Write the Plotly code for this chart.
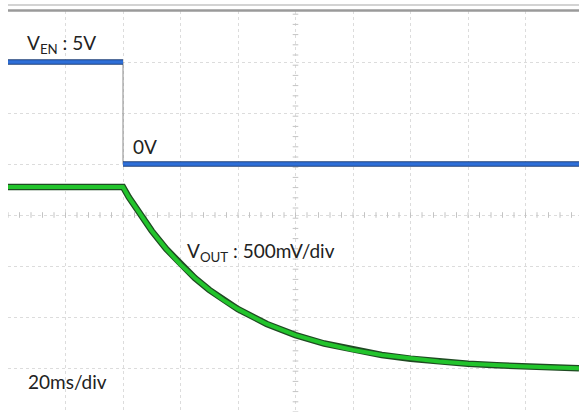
import plotly.graph_objects as go

# time axis (ms), 20 ms/div
t_en = [0, 40, None, 40, 198.6]
v_en = [5, 5, None, 0, 0]

t_out = [0, 40, 42, 45, 50, 55, 60, 65, 70, 75, 80, 90, 100, 110, 120, 130, 140, 150, 160, 170, 180, 190, 198.6]
v_out = [1.8, 1.8, 1.70, 1.57, 1.369, 1.193, 1.04, 0.907, 0.791, 0.690, 0.602, 0.457, 0.348, 0.265, 0.201,
         0.153, 0.116, 0.088, 0.067, 0.051, 0.039, 0.030, 0.023]

labels = ["V<sub>EN</sub> : 5V", "0V", "V<sub>OUT</sub> : 500mV/div", "20ms/div"]

# layout geometry (pixels)
W, H = 579, 412
L, T = 8, 11
XMAX = (W - L) / 2.875          # ms visible
DIV = 51.0
CY = 215.0                      # center line pixel
def div_of(py):
    return (CY - py) / DIV
y_top_div = div_of(T)
y_bot_div = div_of(H)
# EN axis: 2.5 V/div, 0 V at +1 div
en_rng = [(y_bot_div - 1) * 2.5, (y_top_div - 1) * 2.5]
# VOUT axis: 0.5 V/div, 0 V at -3.05 div
out_rng = [(y_bot_div + 3.05) * 0.5, (y_top_div + 3.05) * 0.5]

fig = go.Figure()

# center-cross minor ticks
tick_x = [i * 4.0 for i in range(0, 50)]
fig.add_trace(go.Scatter(x=tick_x, y=[-2.5] * len(tick_x), mode="markers",
                         marker=dict(symbol="line-ns-open", size=4, color="#c4c4c4", line=dict(width=1, color="#c4c4c4")),
                         hoverinfo="skip", showlegend=False))
tick_y = [en_rng[0] + 0.5 * i for i in range(0, 40)]
fig.add_trace(go.Scatter(x=[100] * len(tick_y), y=tick_y, mode="markers",
                         marker=dict(symbol="line-ew-open", size=4, color="#c4c4c4", line=dict(width=1, color="#c4c4c4")),
                         hoverinfo="skip", showlegend=False))

# EN step edge
fig.add_trace(go.Scatter(x=[40, 40], y=[5, 0], mode="lines", line=dict(color="#8a8a8a", width=1),
                         hoverinfo="skip", showlegend=False))
# EN trace
fig.add_trace(go.Scatter(x=t_en, y=v_en, mode="lines", line=dict(color="#1d3f7a", width=5.5),
                         hoverinfo="skip", showlegend=False))
fig.add_trace(go.Scatter(x=t_en, y=v_en, mode="lines", line=dict(color="#2e6fd8", width=3.5),
                         name="V_EN", showlegend=False))
# VOUT trace
fig.add_trace(go.Scatter(x=t_out, y=v_out, mode="lines", yaxis="y2", line=dict(color="#1f4a22", width=6.5),
                         hoverinfo="skip", showlegend=False))
fig.add_trace(go.Scatter(x=t_out, y=v_out, mode="lines", yaxis="y2", line=dict(color="#22c42c", width=4),
                         name="V_OUT", showlegend=False))

def t_of(px):
    return (px - L) / 2.875
def en_of(py):
    return (div_of(py) - 1) * 2.5

ann_pos = [(25, 44), (131, 146), (185, 252), (26, 381)]
for txt, (px, py) in zip(labels, ann_pos):
    fig.add_annotation(x=t_of(px), y=en_of(py), xref="x", yref="y", text=txt, showarrow=False,
                       xanchor="left", yanchor="middle",
                       font=dict(family="Lato", size=19, color="#222222"))

# top border lines
fig.add_shape(type="line", xref="paper", yref="paper", x0=0, x1=1,
              y0=1 + 6 / (H - T), y1=1 + 6 / (H - T), line=dict(color="#c4c4c4", width=1.5))
fig.add_shape(type="line", xref="paper", yref="paper", x0=0, x1=1,
              y0=1 + 0.5 / (H - T), y1=1 + 0.5 / (H - T), line=dict(color="#9a9a9a", width=2.5))

fig.update_layout(
    width=W, height=H,
    margin=dict(l=L, r=0, t=T, b=0),
    paper_bgcolor="white", plot_bgcolor="white",
    xaxis=dict(range=[0, XMAX], tick0=0, dtick=20, showgrid=True, gridcolor="#dcdcdc", griddash="dot",
               gridwidth=1, zeroline=False, showticklabels=False, ticks="", showline=False),
    yaxis=dict(range=en_rng, tick0=0, dtick=2.5, showgrid=True, gridcolor="#dcdcdc", griddash="dot",
               gridwidth=1, zeroline=False, showticklabels=False, ticks="", showline=False),
    yaxis2=dict(range=out_rng, overlaying="y", showgrid=False, zeroline=False, showticklabels=False,
                ticks="", showline=False),
    showlegend=False,
)

fig.write_html("out.html", config={"displayModeBar": False},
               post_script="document.body.style.margin='0';document.body.style.overflow='hidden';")
